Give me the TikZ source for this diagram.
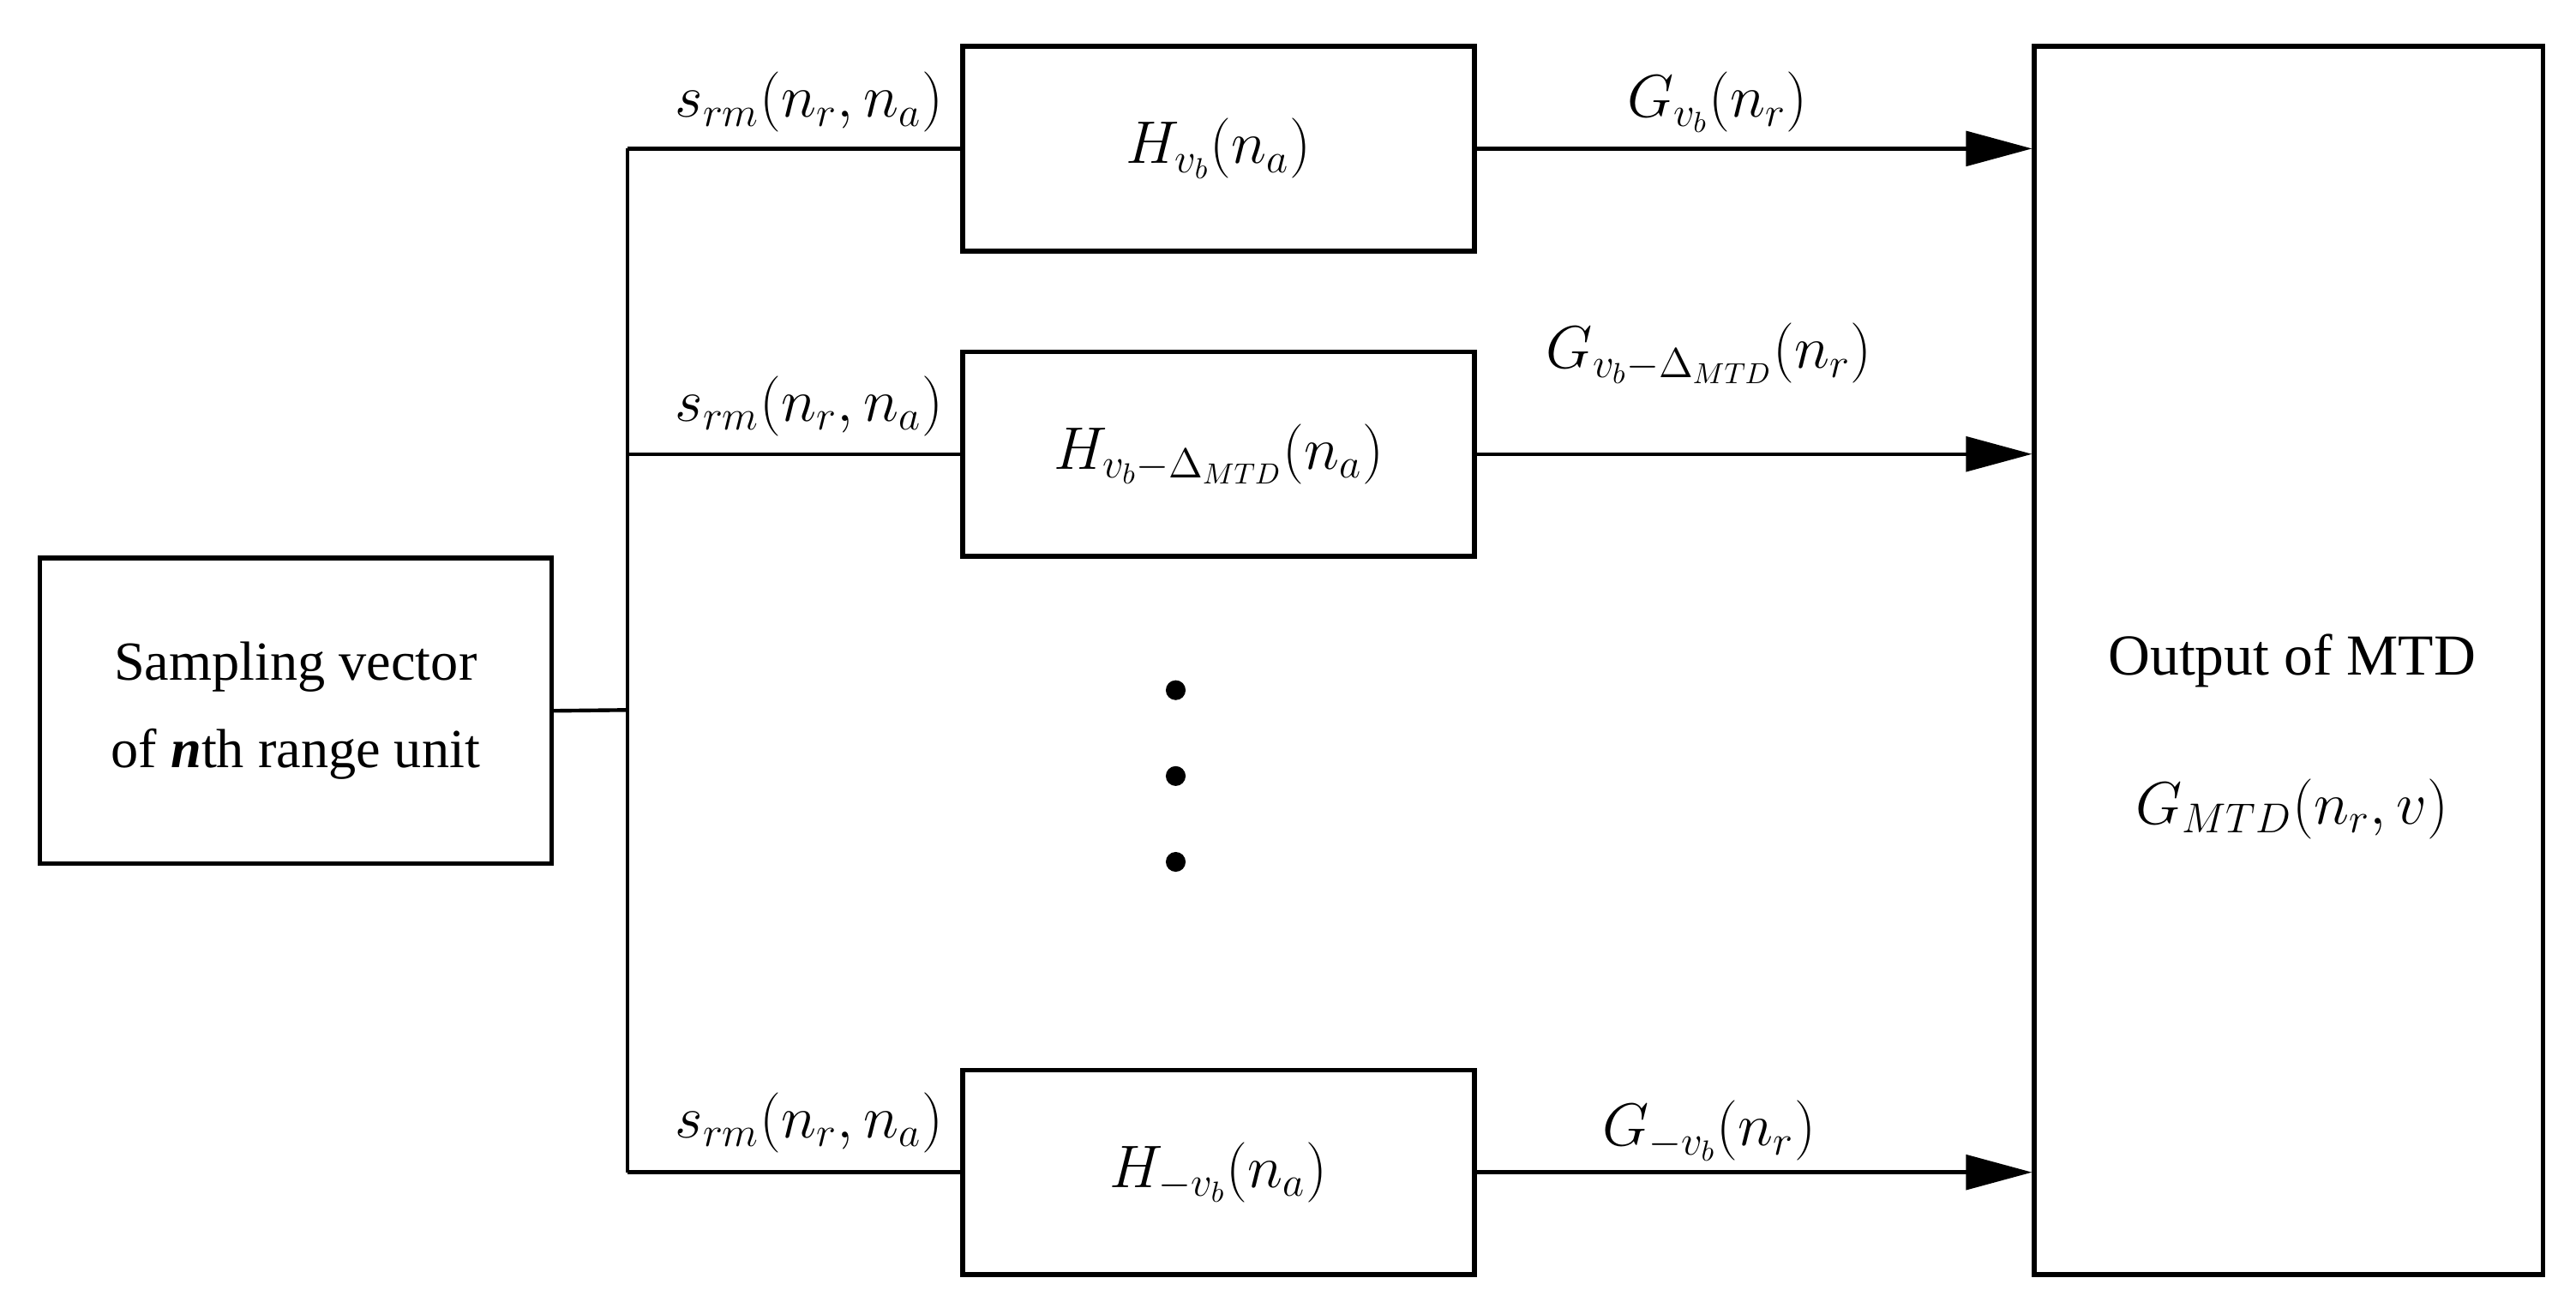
\documentclass[tikz,border=0pt]{standalone}
\usepackage{fontspec}
\setmainfont{Liberation Serif}
\usetikzlibrary{arrows.meta}
\begin{document}
\begin{tikzpicture}[x=0.02cm,y=-0.02cm,
  box/.style={draw,line width=1.6pt,inner sep=0pt},
  ln/.style={line width=1.3pt},
  arr/.style={ln,-{Triangle[length=0.8cm,width=0.42cm]}},
  lab/.style={font=\fontsize{20}{24}\selectfont},
  every node/.style={font=\fontsize{20}{24}\selectfont}]
\useasboundingbox (0,0) rectangle (1560,792);
\node[box,minimum width=310*0.02cm,minimum height=185*0.02cm,align=center,font=\fontsize{19}{30}\selectfont] (src) at (179,430.5) {Sampling vector\\of \textbf{\itshape n}th range unit};
\node[box,minimum width=310*0.02cm,minimum height=124*0.02cm] (h1) at (738,90) {$H_{v_b}(n_a)$};
\node[box,minimum width=310*0.02cm,minimum height=124*0.02cm] (h2) at (738,275) {$H_{v_b-\Delta_{MTD}}(n_a)$};
\node[box,minimum width=310*0.02cm,minimum height=124*0.02cm] (h3) at (738,710) {$H_{-v_b}(n_a)$};
\node[box,minimum width=308*0.02cm,minimum height=744*0.02cm,align=center] (out) at (1386,400) {};
\node (o1) at (1388,400) {Output of MTD};
\node (o2) at (1388,490) {$G_{MTD}(n_r,v)$};
\coordinate (b0) at (380,430);
\coordinate (b1) at (380,90);
\coordinate (b2) at (380,275);
\coordinate (b3) at (380,710);
\draw[ln] (src.east) -- (b0);
\draw[ln] (b1) -- (b3);
\draw[ln] (b1) -- (h1.west);
\draw[ln] (b2) -- (h2.west);
\draw[ln] (b3) -- (h3.west);
\node at (490,62) {$s_{rm}(n_r,n_a)$};
\node at (490,246) {$s_{rm}(n_r,n_a)$};
\node at (490,680) {$s_{rm}(n_r,n_a)$};
\draw[arr] (h1.east) -- (h1.east -| out.west);
\draw[arr] (h2.east) -- (h2.east -| out.west);
\draw[arr] (h3.east) -- (h3.east -| out.west);
\node at (1040,62) {$G_{v_b}(n_r)$};
\node at (1035,214) {$G_{v_b-\Delta_{MTD}}(n_r)$};
\node at (1035,685) {$G_{-v_b}(n_r)$};
\foreach \yy/\nm in {418/d1,470/d2,522/d3} \fill (712,\yy) circle (6) coordinate (\nm);
\end{tikzpicture}
\end{document}
